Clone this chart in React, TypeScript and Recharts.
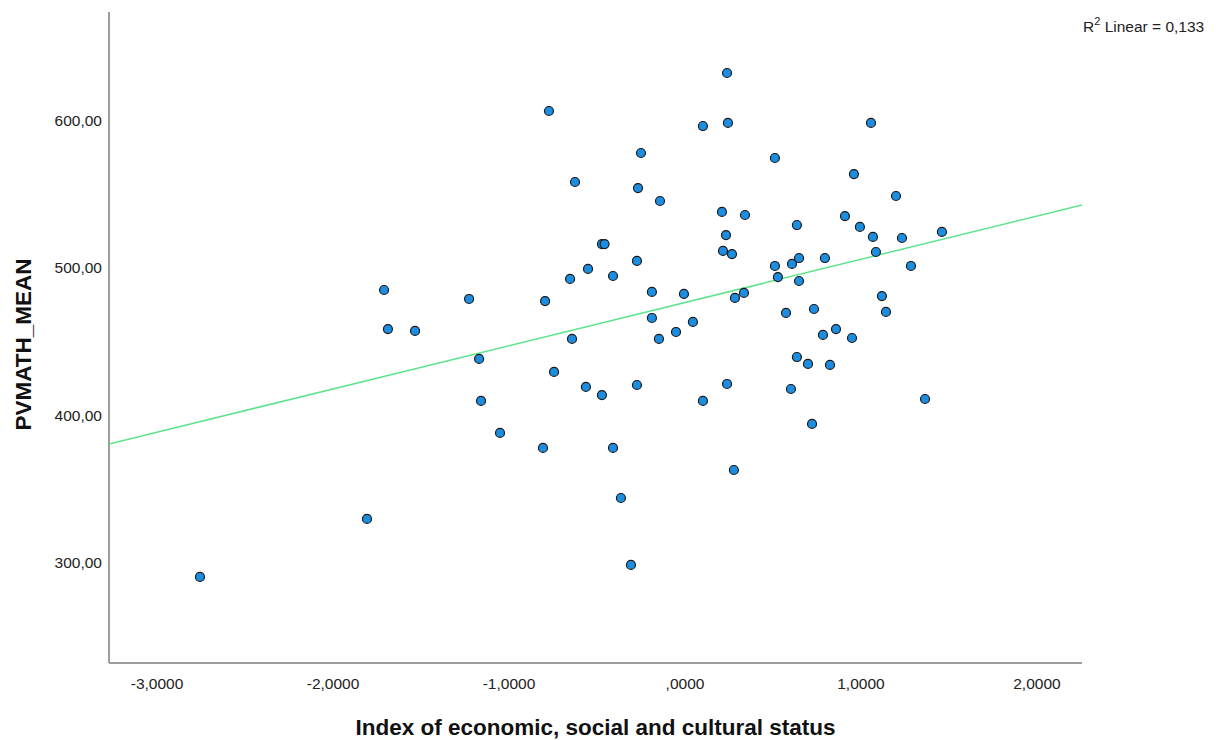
import { ScatterChart, Scatter, XAxis, YAxis, Label } from "recharts";

// Index of economic, social and cultural status (ESCS), one value per country
const escs = [
  -2.756, -1.807, -1.71, -1.688, -1.534, -1.227, -1.17, -1.159, -1.051, -0.807,
  -0.795, -0.773, -0.744, -0.653, -0.642, -0.625, -0.563, -0.551, -0.472, -0.457,
  -0.472, -0.409, -0.409, -0.364, -0.307, -0.273, -0.273, -0.267, -0.25, -0.188,
  -0.188, -0.148, -0.142, -0.051, -0.006, 0.045, 0.102, 0.102, 0.21, 0.216,
  0.233, 0.239, 0.239, 0.244, 0.267, 0.278, 0.284, 0.335, 0.341, 0.511,
  0.511, 0.528, 0.574, 0.602, 0.608, 0.636, 0.636, 0.648, 0.648, 0.699,
  0.722, 0.733, 0.784, 0.795, 0.824, 0.858, 0.909, 0.949, 0.96, 0.994,
  1.057, 1.068, 1.085, 1.119, 1.142, 1.199, 1.233, 1.284, 1.364, 1.46,
];

// PVMATH_MEAN, same order as escs
const pvmath = [
  289.8, 329.2, 484.6, 458.1, 456.8, 478.5, 437.8, 409.3, 387.6, 377.4,
  477.1, 606.1, 429.0, 492.1, 451.4, 557.9, 418.8, 498.9, 515.8, 515.8,
  413.3, 494.1, 377.4, 343.4, 298.0, 504.3, 420.1, 553.8, 577.6, 483.3,
  465.6, 451.4, 545.0, 456.1, 481.9, 462.9, 595.9, 409.3, 537.6, 511.1,
  521.9, 631.9, 420.8, 598.0, 509.0, 362.4, 479.2, 482.6, 535.5, 574.2,
  500.9, 493.4, 469.0, 417.4, 502.3, 528.7, 439.1, 506.3, 490.7, 434.4,
  393.7, 471.7, 454.1, 506.3, 433.7, 458.1, 534.8, 452.0, 563.3, 527.4,
  598.0, 520.6, 510.4, 480.5, 469.7, 548.4, 519.9, 500.9, 410.6, 524.0,
];

const xTicks = [-3, -2, -1, 0, 1, 2];
const yTicks = [300, 400, 500, 600];
const xDomain = [-3.273, 2.256];
const yDomain = [231.4, 673.3];

// linear fit shown in the chart
const fitIntercept = 476.1;
const fitSlope = 29.34;
const r2Text = "0,133";

const points = escs.map((x, i) => ({ x, y: pvmath[i] }));
const fitLine = xDomain.map((x) => ({ x, y: fitIntercept + fitSlope * x }));

const FONT = "'Liberation Sans', Arial, sans-serif";
const AXIS_COLOR = "#9d9d9d";

// SPSS style: 0 -> ",0000", -1 -> "-1,0000"
const fmtX = (v: number) => v.toFixed(4).replace(".", ",").replace(/^(-?)0,/, "$1,");
const fmtY = (v: number) => v.toFixed(2).replace(".", ",");

const XTick = (props: any) => {
  const { x, y, payload } = props;
  return (
    <text x={x} y={y + 26} textAnchor="middle" fontFamily={FONT} fontSize={15.5} fill="#222">
      {fmtX(payload.value)}
    </text>
  );
};

const YTick = (props: any) => {
  const { x, y, payload } = props;
  return (
    <text x={x - 7} y={y + 6} textAnchor="end" fontFamily={FONT} fontSize={15.5} fill="#222">
      {fmtY(payload.value)}
    </text>
  );
};

const Dot = (props: any) => (
  <circle cx={props.cx} cy={props.cy} r={4.5} fill="#1c8de0" stroke="#1a1a1a" strokeWidth={1.2} />
);

const NoDot = () => <g />;

export default function App() {
  return (
    <div style={{ position: "absolute", left: 0, top: 0, width: 1219, height: 740, background: "#fff" }}>
      <ScatterChart width={1219} height={740} margin={{ top: 12, right: 137, bottom: 0, left: 0 }}>
        <XAxis
          type="number"
          dataKey="x"
          domain={xDomain}
          allowDataOverflow
          ticks={xTicks}
          interval={0}
          height={77}
          tickSize={0}
          tickMargin={0}
          tickLine={false}
          axisLine={{ stroke: AXIS_COLOR, strokeWidth: 2 }}
          tick={<XTick />}
        >
          <Label
            content={(p: any) => {
              const vb = p.viewBox;
              return (
                <text
                  x={vb.x + vb.width / 2}
                  y={vb.y + 72}
                  textAnchor="middle"
                  fontFamily={FONT}
                  fontWeight="bold"
                  fontSize={22.5}
                  fill="#111"
                >
                  Index of economic, social and cultural status
                </text>
              );
            }}
          />
        </XAxis>
        <YAxis
          type="number"
          dataKey="y"
          domain={yDomain}
          allowDataOverflow
          ticks={yTicks}
          interval={0}
          width={109}
          tickSize={0}
          tickMargin={0}
          tickLine={false}
          axisLine={{ stroke: AXIS_COLOR, strokeWidth: 2 }}
          tick={<YTick />}
        >
          <Label
            content={(p: any) => {
              const vb = p.viewBox;
              const cy = vb.y + vb.height / 2 + 7;
              return (
                <text
                  x={31}
                  y={cy}
                  transform={`rotate(-90 31 ${cy})`}
                  textAnchor="middle"
                  fontFamily={FONT}
                  fontWeight="bold"
                  fontSize={22.5}
                  fill="#111"
                >
                  PVMATH_MEAN
                </text>
              );
            }}
          />
        </YAxis>
        <Scatter
          data={fitLine}
          line={{ stroke: "#5fe38c", strokeWidth: 1.5 }}
          shape={NoDot}
          isAnimationActive={false}
        />
        <Scatter data={points} shape={Dot} isAnimationActive={false} />
      </ScatterChart>
      <svg
        width={1219}
        height={740}
        style={{ position: "absolute", left: 0, top: 0, pointerEvents: "none" }}
      >
        <text x={1083} y={32} fontFamily={FONT} fontSize={15.5} fill="#222">
          R
          <tspan fontSize={11} dy={-7}>2</tspan>
          <tspan dy={7}>{` Linear = ${r2Text}`}</tspan>
        </text>
      </svg>
    </div>
  );
}
